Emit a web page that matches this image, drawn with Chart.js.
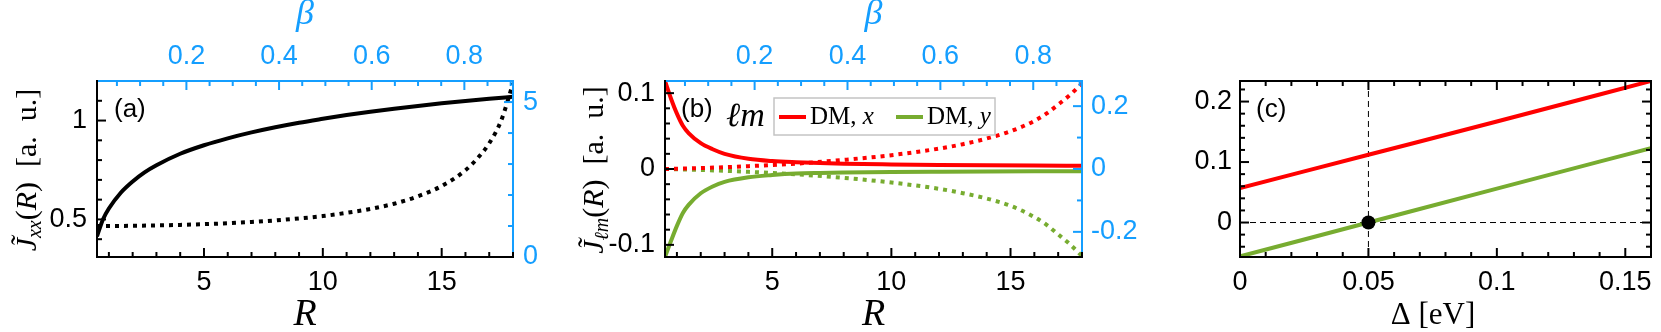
<!DOCTYPE html>
<html><head><meta charset="utf-8">
<script src="https://cdn.jsdelivr.net/npm/chart.js@4/dist/chart.umd.min.js"></script>
<style>
html,body{margin:0;padding:0;background:#fff;width:1661px;height:332px;overflow:hidden}
canvas{position:absolute;top:0}
</style></head><body>
<canvas id="ca" width="590" height="332" style="left:0px"></canvas>
<canvas id="cb" width="600" height="332" style="left:560px"></canvas>
<canvas id="cc" width="501" height="332" style="left:1160px"></canvas>
<script>
// ---------- Panel (a) data ----------
const aR      = [0.5,0.75,1,1.5,2,2.5,3,4,5,6,7,8,9,10,11,12,13,14,15,16,17,18];
const aJxx    = [0.415,0.5,0.555,0.635,0.692,0.738,0.774,0.832,0.875,0.91,0.94,0.966,0.989,1.009,1.028,1.045,1.06,1.074,1.087,1.099,1.11,1.12];
const aRDot   = [0.5,1,2,3,4,5,6,7,8,9,10,11,12,13,14,15,16,16.5,17,17.5,18];
const aJxxDot = [1.0,1.0,1.007,1.019,1.036,1.06,1.09,1.13,1.18,1.245,1.32,1.425,1.55,1.72,1.96,2.29,2.8,3.18,3.67,4.4,5.6];
// ---------- Panel (b) data ----------
const bR      = [0.5,0.75,1,1.25,1.5,2,2.5,3,4,5,6,7,8,10,12,14,16,18];
const bDMx    = [0.116,0.093,0.073,0.057,0.047,0.034,0.026,0.02,0.0135,0.0105,0.009,0.008,0.007,0.006,0.0053,0.0048,0.0045,0.0043];
const bDMy    = [-0.116,-0.095,-0.075,-0.058,-0.047,-0.032,-0.023,-0.017,-0.011,-0.008,-0.006,-0.0052,-0.0047,-0.004,-0.0036,-0.0033,-0.0031,-0.003];
const bRDot   = [0.5,2,4,6,8,10,12,13,14,15,16,16.5,17,17.5,18];
const bDMxDot = [0,0.003,0.009,0.017,0.029,0.044,0.065,0.079,0.097,0.12,0.153,0.176,0.205,0.236,0.272];
const bDMyDot = [0,-0.003,-0.009,-0.017,-0.028,-0.043,-0.063,-0.077,-0.094,-0.117,-0.153,-0.177,-0.208,-0.24,-0.277];
// ---------- Panel (c) data ----------
const cDelta  = [0,0.05,0.1,0.16];
const cRed    = [0.057,0.112,0.167,0.234];
const cGreen  = [-0.056,0,0.056,0.123];
const cMarkX  = [0.05];
const cMarkY  = [0];
// ---------- tick labels ----------
const rTicks = [5,10,15],            rLabels = ['5','10','15'];
const betaTicks = [0.2,0.4,0.6,0.8], betaLabels = ['0.2','0.4','0.6','0.8'];
const aYTicks = [0.5,1],             aYLabels = ['0.5','1'];
const aY2Ticks = [0,5],              aY2Labels = ['0','5'];
const bYTicks = [-0.1,0,0.1],        bYLabels = ['-0.1','0','0.1'];
const bY2Ticks = [-0.2,0,0.2],       bY2Labels = ['-0.2','0','0.2'];
const cXTicks = [0,0.05,0.1,0.15],   cXLabels = ['0','0.05','0.1','0.15'];
const cYTicks = [0,0.1,0.2],         cYLabels = ['0','0.1','0.2'];
const legendNames = ['DM, ', 'DM, '];
const legendVars = ['x', 'y'];

// ---------- styles ----------
const BLUE = 'rgb(20,158,255)';
const GREEN = 'rgb(119,172,48)';
const RED = 'rgb(255,0,0)';
const SANS = '"Liberation Sans", Arial, sans-serif';
const SERIF = '"Liberation Serif", "Times New Roman", serif';
Chart.defaults.font.family = SANS;

const pts = (xs, ys) => xs.map((x, i) => ({x, y: ys[i]}));
const tickFont = {family: SANS, size: 27, lineHeight: 1.2};

function fixedTicks(vals, labels) {
  return {
    afterBuildTicks: s => { s.ticks = vals.map(v => ({value: v})); },
    cb: (v) => { const i = vals.findIndex(t => Math.abs(t - v) < 1e-9); return i >= 0 ? labels[i] : ''; }
  };
}
function axis(pos, min, max, vals, labels, size, color, pad, title) {
  const f = fixedTicks(vals, labels);
  const o = {
    type: 'linear', position: pos, min, max,
    afterBuildTicks: f.afterBuildTicks,
    afterFit: s => { if (pos === 'top' || pos === 'bottom') s.height = size; else s.width = size; },
    grid: {display: false, drawTicks: false},
    border: {display: false},
    ticks: {font: tickFont, color, padding: pad, autoSkip: false, maxRotation: 0, minRotation: 0, callback: f.cb}
  };
  if (title) o.title = title;
  return o;
}

function framePlugin(specs) {
  return { id: 'frame', afterDatasetsDraw(chart) {
    const ctx = chart.ctx, a = chart.chartArea;
    ctx.save();
    ctx.lineCap = 'butt';
    specs.forEach(s => {
      const sc = chart.scales[s.scale];
      ctx.strokeStyle = s.color;
      ctx.lineWidth = 2;
      const n = Math.round((s.to - s.from) / s.step);
      for (let i = 0; i <= n; i++) {
        const v = s.from + i * s.step;
        const major = s.majors.some(m => Math.abs(m - v) < s.step / 100);
        const len = major ? 9 : 5;
        const p = sc.getPixelForValue(v);
        ctx.beginPath();
        if (s.side === 'bottom') { ctx.moveTo(p, a.bottom); ctx.lineTo(p, a.bottom - len); }
        else if (s.side === 'top') { ctx.moveTo(p, a.top); ctx.lineTo(p, a.top + len); }
        else if (s.side === 'left') { ctx.moveTo(a.left, p); ctx.lineTo(a.left + len, p); }
        else { ctx.moveTo(a.right, p); ctx.lineTo(a.right - len, p); }
        ctx.stroke();
      }
      ctx.beginPath();
      if (s.side === 'bottom') { ctx.moveTo(a.left - 1, a.bottom); ctx.lineTo(a.right + 1, a.bottom); }
      else if (s.side === 'top') { ctx.moveTo(a.left - 1, a.top); ctx.lineTo(a.right + 1, a.top); }
      else if (s.side === 'left') { ctx.moveTo(a.left, a.top - 1); ctx.lineTo(a.left, a.bottom + 1); }
      else { ctx.moveTo(a.right, a.top - 1); ctx.lineTo(a.right, a.bottom + 1); }
      ctx.stroke();
    });
    ctx.restore();
  }};
}

// rich text: parts [{t, font, dy, color}]
function rich(ctx, x, y, parts, rotate, align) {
  ctx.save();
  ctx.translate(x, y);
  if (rotate) ctx.rotate(-Math.PI / 2);
  ctx.textBaseline = 'middle';
  ctx.textAlign = 'left';
  let total = 0;
  parts.forEach(p => { ctx.font = p.font; p.w = ctx.measureText(p.t).width; total += p.w; });
  let cx = align === 'center' ? -total / 2 : 0;
  parts.forEach(p => { ctx.font = p.font; ctx.fillStyle = p.color || '#000'; ctx.fillText(p.t, cx, p.dy || 0); cx += p.w; });
  ctx.restore();
}
function textPlugin(offX, fn) {
  return { id: 'txt', afterDraw(chart) { const ctx = chart.ctx; ctx.save(); ctx.translate(-offX, 0); fn(ctx, chart); ctx.restore(); } };
}
function yTitle(ctx, x, y, sub) {
  rich(ctx, x, y, [
    {t: 'J\u0303', font: 'italic 30px ' + SERIF},
    {t: sub, font: 'italic 20px ' + SERIF, dy: 8},
    {t: '(', font: '30px ' + SERIF},
    {t: 'R', font: 'italic 30px ' + SERIF},
    {t: ')', font: '30px ' + SERIF},
    {t: '  [a.  u.]', font: '30px ' + SERIF}
  ], true, 'center');
}
function panelLetter(ctx, x, y, s) {
  ctx.font = '26px ' + SANS; ctx.fillStyle = '#000'; ctx.textBaseline = 'middle'; ctx.textAlign = 'left';
  ctx.fillText(s, x, y);
}
const lineBase = {pointRadius: 0, borderWidth: 4, fill: false, cubicInterpolationMode: 'monotone', borderCapStyle: 'butt'};
const commonOpts = {responsive: false, animation: false, events: [], plugins: {legend: {display: false}, tooltip: {enabled: false}}};

const rTitle = {display: true, text: 'R', color: '#000', font: {family: SERIF, size: 38, style: 'italic', lineHeight: 0.9}, padding: {top: 0, bottom: 0}};
const betaTitle = {display: true, text: '\u03B2', color: BLUE, font: {family: SERIF, size: 36, style: 'italic', lineHeight: 0.8}, padding: {top: 0, bottom: 0}};

// ---------- Panel (a) ----------
new Chart(document.getElementById('ca'), {
  type: 'line',
  data: {datasets: [
    Object.assign({data: pts(aR, aJxx), xAxisID: 'x', yAxisID: 'y', borderColor: '#000'}, lineBase),
    Object.assign({data: pts(aRDot, aJxxDot), xAxisID: 'x', yAxisID: 'y2', borderColor: '#000', borderDash: [4, 5]}, lineBase)
  ]},
  options: Object.assign({}, commonOpts, {
    layout: {padding: 0},
    scales: {
      x: axis('bottom', 0.5, 18, rTicks, rLabels, 75, '#000', 9, rTitle),
      x2: axis('top', 0.007, 0.905, betaTicks, betaLabels, 81, BLUE, 8, betaTitle),
      y: axis('left', 0.31, 1.2, aYTicks, aYLabels, 97, '#000', 10),
      y2: axis('right', 0, 5.68, aY2Ticks, aY2Labels, 77, BLUE, 10)
    }
  }),
  plugins: [
    framePlugin([
      {scale: 'x2', side: 'top', color: BLUE, from: 0.05, to: 0.9, step: 0.05, majors: betaTicks},
      {scale: 'y2', side: 'right', color: BLUE, from: 0, to: 5, step: 1, majors: aY2Ticks},
      {scale: 'x', side: 'bottom', color: '#000', from: 1, to: 18, step: 1, majors: rTicks},
      {scale: 'y', side: 'left', color: '#000', from: 0.4, to: 1.1, step: 0.1, majors: aYTicks}
    ]),
    textPlugin(0, (ctx) => { panelLetter(ctx, 114, 110, '(a)'); yTitle(ctx, 28, 170, 'xx'); })
  ]
});

// ---------- Panel (b) ----------
new Chart(document.getElementById('cb'), {
  type: 'line',
  data: {datasets: [
    Object.assign({data: pts(bR, bDMx), xAxisID: 'x', yAxisID: 'y', borderColor: RED}, lineBase),
    Object.assign({data: pts(bR, bDMy), xAxisID: 'x', yAxisID: 'y', borderColor: GREEN}, lineBase),
    Object.assign({data: pts(bRDot, bDMxDot), xAxisID: 'x', yAxisID: 'y2', borderColor: RED, borderDash: [4, 5]}, lineBase),
    Object.assign({data: pts(bRDot, bDMyDot), xAxisID: 'x', yAxisID: 'y2', borderColor: GREEN, borderDash: [4, 5]}, lineBase)
  ]},
  options: Object.assign({}, commonOpts, {
    layout: {padding: 0},
    scales: {
      x: axis('bottom', 0.5, 18, rTicks, rLabels, 75, '#000', 9, rTitle),
      x2: axis('top', 0.007, 0.905, betaTicks, betaLabels, 81, BLUE, 8, betaTitle),
      y: axis('left', -0.116, 0.116, bYTicks, bYLabels, 105, '#000', 10),
      y2: axis('right', -0.28, 0.28, bY2Ticks, bY2Labels, 78, BLUE, 9)
    }
  }),
  plugins: [
    framePlugin([
      {scale: 'x2', side: 'top', color: BLUE, from: 0.05, to: 0.9, step: 0.05, majors: betaTicks},
      {scale: 'y2', side: 'right', color: BLUE, from: -0.2, to: 0.2, step: 0.1, majors: bY2Ticks},
      {scale: 'x', side: 'bottom', color: '#000', from: 1, to: 18, step: 1, majors: rTicks},
      {scale: 'y', side: 'left', color: '#000', from: -0.1, to: 0.1, step: 0.02, majors: bYTicks}
    ]),
    textPlugin(560, (ctx) => {
      panelLetter(ctx, 681, 110, '(b)');
      yTitle(ctx, 595, 170, '\u2113m');
      ctx.font = 'italic 34px ' + SERIF; ctx.fillStyle = '#000'; ctx.textBaseline = 'alphabetic'; ctx.textAlign = 'left';
      ctx.fillText('\u2113m', 726, 126);
      // legend box
      ctx.fillStyle = '#fff'; ctx.fillRect(774, 98, 221, 37);
      ctx.strokeStyle = '#c4c4c4'; ctx.lineWidth = 1.5; ctx.strokeRect(774, 98, 221, 37);
      const cols = [RED, GREEN], lx = [779, 896];
      for (let i = 0; i < 2; i++) {
        ctx.strokeStyle = cols[i]; ctx.lineWidth = 4; ctx.beginPath(); ctx.moveTo(lx[i], 117); ctx.lineTo(lx[i] + 27, 117); ctx.stroke();
        rich(ctx, lx[i] + 31, 117, [
          {t: legendNames[i], font: '25px ' + SERIF},
          {t: legendVars[i], font: 'italic 25px ' + SERIF}
        ], false, 'left');
      }
    })
  ]
});

// ---------- Panel (c) ----------
const cYMin = -0.057, cYMax = 0.234, cXMin = 0, cXMax = 0.16;
new Chart(document.getElementById('cc'), {
  type: 'line',
  data: {datasets: [
    {data: pts(cMarkX, cMarkY), showLine: false, pointRadius: 7, pointBackgroundColor: '#000', pointBorderWidth: 0, borderColor: '#000'},
    Object.assign({data: pts(cDelta, cRed), borderColor: RED}, lineBase),
    Object.assign({data: pts(cDelta, cGreen), borderColor: GREEN}, lineBase),
    {data: [{x: cMarkX[0], y: cYMin}, {x: cMarkX[0], y: cYMax}], borderColor: '#000', borderWidth: 1, borderDash: [6, 4], pointRadius: 0},
    {data: [{x: cXMin, y: cMarkY[0]}, {x: cXMax, y: cMarkY[0]}], borderColor: '#000', borderWidth: 1, borderDash: [6, 4], pointRadius: 0}
  ]},
  options: Object.assign({}, commonOpts, {
    layout: {padding: {top: 81, right: 4, left: 0, bottom: 0}},
    scales: {
      x: axis('bottom', cXMin, cXMax, cXTicks, cXLabels, 75, '#000', 9),
      y: axis('left', cYMin, cYMax, cYTicks, cYLabels, 80, '#000', 8)
    }
  }),
  plugins: [
    framePlugin([
      {scale: 'x', side: 'bottom', color: '#000', from: 0, to: 0.16, step: 0.01, majors: cXTicks},
      {scale: 'x', side: 'top', color: '#000', from: 0, to: 0.16, step: 0.01, majors: cXTicks},
      {scale: 'y', side: 'left', color: '#000', from: -0.04, to: 0.22, step: 0.02, majors: cYTicks},
      {scale: 'y', side: 'right', color: '#000', from: -0.04, to: 0.22, step: 0.02, majors: cYTicks}
    ]),
    textPlugin(1160, (ctx) => {
      panelLetter(ctx, 1256, 110, '(c)');
      rich(ctx, 1433, 316, [
        {t: '\u0394', font: '31px ' + SERIF},
        {t: ' [eV]', font: '31px ' + SERIF}
      ], false, 'center');
    })
  ]
});
</script>
</body></html>
